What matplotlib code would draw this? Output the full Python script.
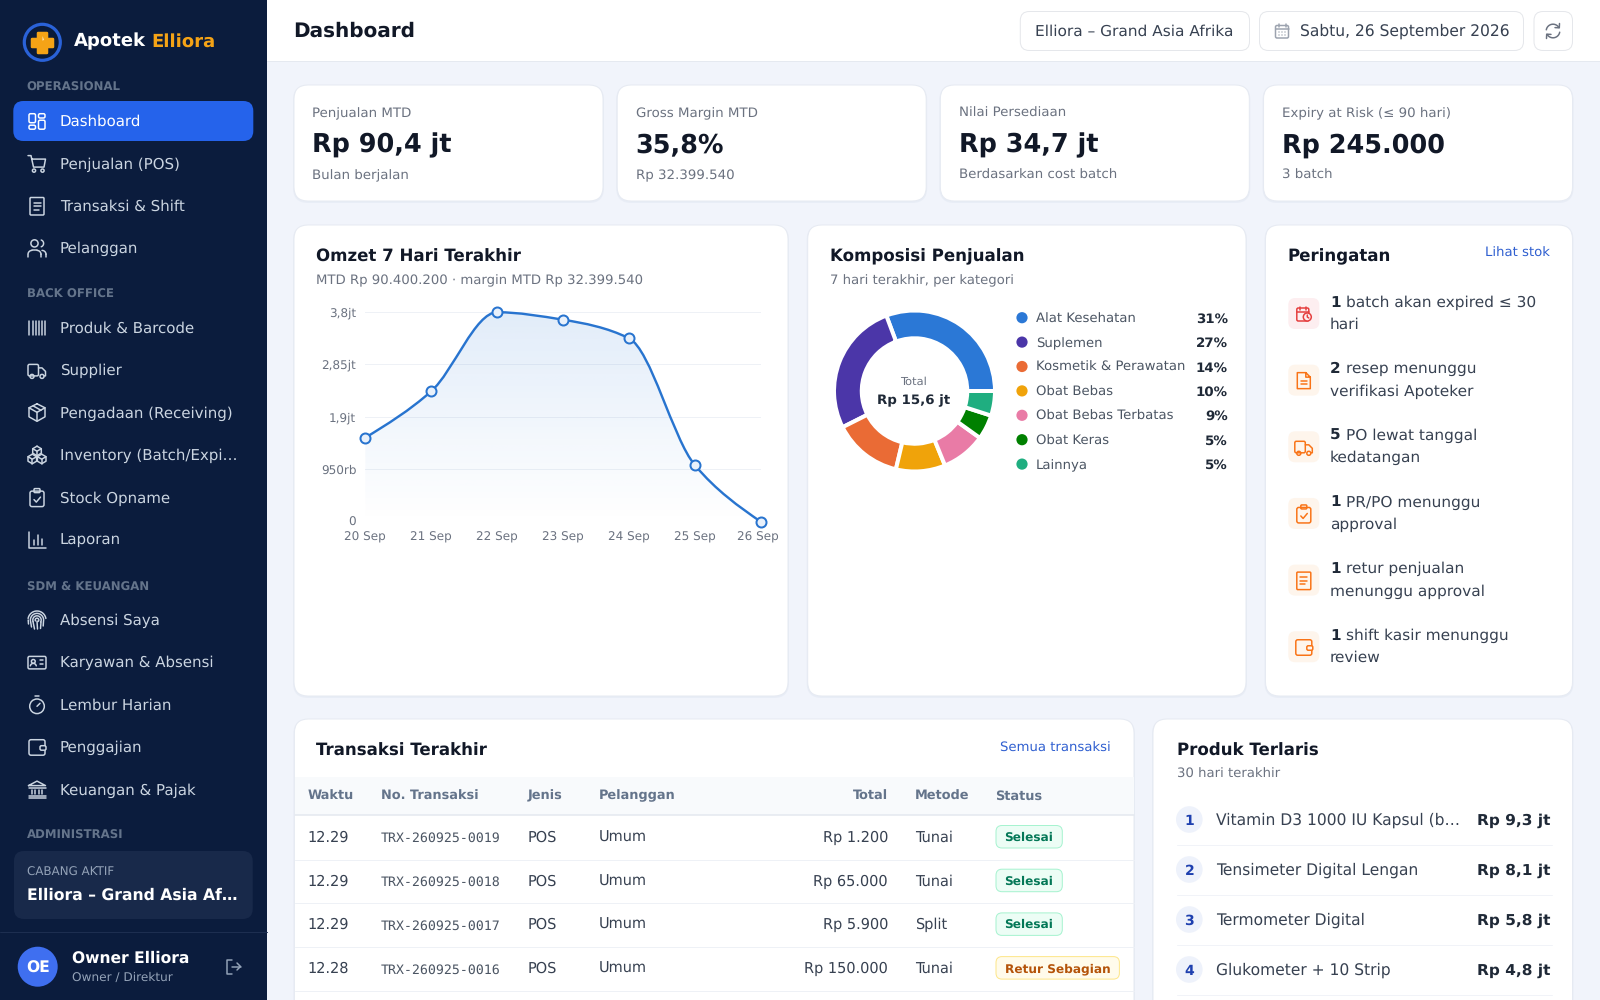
#!/usr/bin/env python
# coding=utf-8
"""Apotek Elliora dashboard, drawn on a pixel canvas with two real chart axes."""
import numpy as np
import matplotlib
matplotlib.use("Agg")
import matplotlib.pyplot as plt
from matplotlib.patches import FancyBboxPatch, Circle, PathPatch, Polygon
from matplotlib.path import Path
from matplotlib.transforms import ScaledTranslation

plt.rcParams["text.hinting"] = "no_hinting"

W, H = 1600, 1000

# chart data
days = ["20 Sep", "21 Sep", "22 Sep", "23 Sep", "24 Sep", "25 Sep", "26 Sep"]
omzet = [1.52, 2.36, 3.79, 3.655, 3.32, 1.025, 0.0]
y_ticks = [0, 0.95, 1.9, 2.85, 3.8]
y_tick_labels = ["0", "950rb", "1,9jt", "2,85jt", "3,8jt"]

categories = ["Alat Kesehatan", "Suplemen", "Kosmetik & Perawatan", "Obat Bebas",
              "Obat Bebas Terbatas", "Obat Keras", "Lainnya"]
shares = [31, 27, 14, 10, 9, 5, 5]
cat_colors = ["#2b78d6", "#4b36a8", "#ea6b35", "#f0a30a", "#e97ba6", "#008000", "#1fae80"]

# kpi cards
kpi_labels = ["Penjualan MTD", "Gross Margin MTD", "Nilai Persediaan", "Expiry at Risk (≤ 90 hari)"]
kpi_values = ["Rp 90,4 jt", "35,8%", "Rp 34,7 jt", "Rp 245.000"]
kpi_subs = ["Bulan berjalan", "Rp 32.399.540", "Berdasarkan cost batch", "3 batch"]

# sidebar
menu_ops = ["Dashboard", "Penjualan (POS)", "Transaksi & Shift", "Pelanggan"]
menu_back = ["Produk & Barcode", "Supplier", "Pengadaan (Receiving)",
             "Inventory (Batch/Expi…", "Stock Opname", "Laporan"]
menu_sdm = ["Absensi Saya", "Karyawan & Absensi", "Lembur Harian", "Penggajian", "Keuangan & Pajak"]

# alerts
alert_nums = ["1", "2", "5", "1", "1", "1"]
alert_line1 = ["batch akan expired ≤ 30", "resep menunggu", "PO lewat tanggal",
               "PR/PO menunggu", "retur penjualan", "shift kasir menunggu"]
alert_line2 = ["hari", "verifikasi Apoteker", "kedatangan", "approval",
               "menunggu approval", "review"]

# table
tbl_head = ["Waktu", "No. Transaksi", "Jenis", "Pelanggan", "Total", "Metode", "Status"]
tbl_time = ["12.29", "12.29", "12.29", "12.28"]
tbl_no = ["TRX-260925-0019", "TRX-260925-0018", "TRX-260925-0017", "TRX-260925-0016"]
tbl_kind = ["POS", "POS", "POS", "POS"]
tbl_cust = ["Umum", "Umum", "Umum", "Umum"]
tbl_total = ["Rp 1.200", "Rp 65.000", "Rp 5.900", "Rp 150.000"]
tbl_method = ["Tunai", "Tunai", "Split", "Tunai"]
tbl_status = ["Selesai", "Selesai", "Selesai", "Retur Sebagian"]

# top products
top_names = ["Vitamin D3 1000 IU Kapsul (b…", "Tensimeter Digital Lengan",
             "Termometer Digital", "Glukometer + 10 Strip"]
top_values = ["Rp 9,3 jt", "Rp 8,1 jt", "Rp 5,8 jt", "Rp 4,8 jt"]

NAVY = "#0b1c3d"
BG = "#f1f4fb"
INK = "#111827"
GREY = "#6b7280"
BODY = "#374151"
LINK = "#2f5fd0"
MENU = "#cbd5e1"

fig = plt.figure(figsize=(W / 100, H / 100), dpi=100, facecolor=BG)
ax = fig.add_axes([0, 0, 1, 1], zorder=0)
ax.set_xlim(0, W)
ax.set_ylim(H, 0)
ax.axis("off")


def pt(px):
    return px * 0.72


def text(x, y, s, size=13, color=INK, bold=False, ha="left", family=None):
    # y is the middle of the capitals, baseline placed from it so descenders do not shift rows
    kw = {"family": family} if family else {}
    return ax.text(x, y + size * 0.36, s, fontsize=pt(size), color=color, ha=ha, va="baseline",
                   fontweight="bold" if bold else "normal", **kw)


def box(x0, y0, x1, y1, r=8, fc="white", ec="none", lw=1, z=1):
    p = FancyBboxPatch((x0 + r, y0 + r), x1 - x0 - 2 * r, y1 - y0 - 2 * r,
                       boxstyle="round,pad=%g,rounding_size=%g" % (r, r),
                       fc=fc, ec=ec, lw=pt(lw), zorder=z)
    ax.add_patch(p)
    return p


def card(x0, y0, x1, y1):
    box(x0 - 1, y0, x1 + 1, y1 + 2, r=15, fc="#dfe5f0", z=0.8).set_alpha(0.45)
    box(x0, y0, x1, y1, r=14, fc="white", ec="#e6eaf2")


def line(xs, ys, color, lw=1.5, z=3):
    ax.plot(xs, ys, color=color, lw=pt(lw), solid_capstyle="round",
            solid_joinstyle="round", zorder=z)


def arc(cx, cy, r, a0, a1, color, lw=1.5):
    t = np.radians(np.linspace(a0, a1, 30))
    line(cx + r * np.cos(t), cy - r * np.sin(t), color, lw)


def ring(cx, cy, r, color, lw=1.5, fc="none"):
    ax.add_patch(Circle((cx, cy), r, fc=fc, ec=color, lw=pt(lw), zorder=3))


def rr(x0, y0, x1, y1, color, r=1.5, lw=1.5):
    box(x0, y0, x1, y1, r=r, fc="none", ec=color, lw=lw, z=3)


def icon(name, cx, cy, c):
    """Stroke icons, offsets in px around the icon centre."""
    def L(*pts):
        a = np.array(pts, dtype=float)
        line(cx + a[:, 0], cy + a[:, 1], c)

    def R(x0, y0, x1, y1, r=1.5):
        rr(cx + x0, cy + y0, cx + x1, cy + y1, c, r)

    def O(x, y, r):
        ring(cx + x, cy + y, r, c)

    if name == "dashboard":
        R(-8, -7.5, -1.5, 1.5)
        R(1.5, -7.5, 8, -3.2)
        R(-8, 4, -1.5, 8)
        R(1.5, -1, 8, 8)
    elif name == "cart":
        L((-9, -8), (-6, -8), (-3.5, 3.5), (7, 3.5), (8.5, -4.5), (-5, -4.5))
        O(-3, 7, 1.6)
        O(5.5, 7, 1.6)
    elif name == "receipt":
        R(-7, -8.5, 7, 9, 1)
        L((-3.5, -3.5), (3.5, -3.5))
        L((-3.5, 0), (3.5, 0))
        L((-3.5, 3.5), (1.5, 3.5))
    elif name == "users":
        O(-2.5, -5, 3.6)
        arc(cx + 3, cy - 5, 3.6, -70, 70, c)
        L((-9, 8.5), (-9, 6.5))
        arc(cx - 5, cy + 6, 4, 90, 180, c)
        L((-5, 2), (0, 2))
        arc(cx, cy + 6, 4, 0, 90, c)
        L((4, 6), (4, 8.5))
        arc(cx + 5, cy + 6, 4, 0, 90, c)
        L((9, 6), (9, 8.5))
    elif name == "barcode":
        for dx in (-8, -4.5, -1.5, 1.5, 4.5, 8):
            L((dx, -7), (dx, 7))
    elif name == "truck":
        R(-9, -6, 1.5, 5.5)
        L((1.5, -2.5), (5, -2.5), (8.5, 1), (8.5, 5.5), (7, 5.5))
        O(-5, 6, 2)
        O(5, 6, 2)
    elif name == "package":
        hexa = [(0, -9), (8, -5), (8, 4), (0, 8.5), (-8, 4), (-8, -5), (0, -9)]
        L(*hexa)
        L((-8, -5), (0, -0.5), (8, -5))
        L((0, -0.5), (0, 8.5))
        L((-4, -7), (4, -2.5))
    elif name == "boxes":
        for ox, oy in ((0, -4.5), (-4.7, 3.5), (4.7, 3.5)):
            L((ox, oy - 4.5), (ox + 4.3, oy - 2), (ox + 4.3, oy + 2.5), (ox, oy + 5),
              (ox - 4.3, oy + 2.5), (ox - 4.3, oy - 2), (ox, oy - 4.5))
            L((ox - 4.3, oy - 2), (ox, oy + 0.5), (ox + 4.3, oy - 2))
            L((ox, oy + 0.5), (ox, oy + 5))
    elif name == "clipboard":
        R(-7, -6.5, 7, 9, 2)
        R(-3, -9, 3, -5, 1)
        L((-3, 2), (-0.7, 4.5), (3.5, -0.5))
    elif name == "chart":
        L((-8, -8.5), (-8, 8), (9, 8))
        L((-3.5, 4.5), (-3.5, 0))
        L((0.5, 4.5), (0.5, -5))
        L((4.5, 4.5), (4.5, -1.5))
    elif name == "finger":
        for r, a0, a1 in ((9, 10, 170), (6.6, -5, 185), (4.2, -30, 200), (1.8, -60, 210)):
            arc(cx, cy, r, a0, a1, c)
        L((-8.8, 0), (-8.5, 4))
        L((-6.5, 1), (-5.5, 7))
        L((-4, 1.5), (-2.5, 9))
        L((0, 1), (0.5, 9))
        L((4, 2), (3.5, 8.5))
        L((6.5, 1), (6.2, 6))
    elif name == "idcard":
        R(-9, -6, 9, 6.5, 1.5)
        O(-3.7, -1, 1.9)
        arc(cx - 3.7, cy + 4, 3, 10, 170, c)
        L((2.5, -2), (6, -2))
        L((2.5, 2), (6, 2))
    elif name == "timer":
        O(0, 1.5, 7.3)
        L((-2, -8.5), (2, -8.5))
        L((0, 1.5), (3, -1.5))
    elif name == "wallet":
        R(-8, -7.5, 8, 8, 2)
        box(cx + 3, cy - 1.5, cx + 9, cy + 3, r=1.5, fc=ax_bg[0], ec=c, lw=1.5, z=3)
    elif name == "bank":
        L((-8.5, -4), (0, -8.5), (8.5, -4), (-8.5, -4))
        L((-8.5, 8.5), (8.5, 8.5))
        L((-8.5, -1.5), (8.5, -1.5))
        L((-8.5, 6), (8.5, 6))
        for dx in (-5, -1.7, 1.7, 5):
            L((dx, 0), (dx, 4))
    elif name == "logout":
        L((-1, -7), (-6, -7), (-6, 7), (-1, 7))
        L((-1, 0), (7.5, 0))
        L((4, -3.5), (7.5, 0), (4, 3.5))
    elif name == "calendar":
        R(-6.5, -5.5, 6.5, 7, 1.5)
        L((-6.5, -2), (6.5, -2))
        L((-3.5, -7), (-3.5, -4))
        L((3.5, -7), (3.5, -4))
        for dy in (1, 4):
            for dx in (-3, 0, 3):
                ax.add_patch(Circle((cx + dx, cy + dy), 0.7, fc=c, ec="none", zorder=3))
    elif name == "refresh":
        arc(cx, cy, 6.8, 30, 170, c)
        arc(cx, cy, 6.8, 210, 350, c)
        L((6.5, -7.5), (6.3, -3.2), (2, -3.4))
        L((-6.5, 7.5), (-6.3, 3.2), (-2, 3.4))
    elif name == "calclock":
        R(-7, -6, 5, 7, 1.5)
        L((-7, -2.5), (5, -2.5))
        L((-3.5, -7.5), (-3.5, -4.5))
        L((2, -7.5), (2, -4.5))
        ring(cx + 3.5, cy + 3, 4, c, fc="#fdeef0")
        L((3.5, 1), (3.5, 3), (5, 4))
    elif name == "file":
        L((2, -8), (-6.5, -8), (-6.5, 8), (6.5, 8), (6.5, -3.5), (2, -8), (2, -3.5), (6.5, -3.5))
        L((-3, 0), (3, 0))
        L((-3, 3.5), (3, 3.5))


# sidebar
ax.add_patch(plt.Rectangle((0, 0), 267, H, fc=NAVY, ec="none", zorder=0.5))
ax_bg = [NAVY]

ring(42.3, 42.3, 18, "#2a62d8", lw=3.2, fc="#0a1a38")
ax.add_patch(Polygon([(37.5, 33), (47, 33), (47, 38.5), (52.5, 38.5), (52.5, 47), (47, 47),
                      (47, 52.5), (37.5, 52.5), (37.5, 47), (32, 47), (32, 38.5), (37.5, 38.5)],
                     fc="#f5a316", ec="#f5a316", lw=pt(2.5), joinstyle="round", zorder=4))
ax.add_patch(Polygon([(42.6, 36), (44, 40), (42.4, 40.6)], fc="#fde9c0", ec="none", zorder=5))
t = text(73.5, 40, "Apotek", 18, "white", True)
fig.canvas.draw()
rend = fig.canvas.get_renderer()
text(73.5 + t.get_window_extent(rend).width + 18 * 0.348, 40, "Elliora", 18, "#f5a316", True)

SECTION = "#64748b"
text(26.7, 87, "OPERASIONAL", 11.7, SECTION, True)
text(26.7, 293.7, "BACK OFFICE", 11.7, SECTION, True)
text(26.7, 586.7, "SDM & KEUANGAN", 11.7, SECTION, True)
text(26.7, 835, "ADMINISTRASI", 11.7, SECTION, True)

box(13.3, 101, 253.3, 141, r=10, fc="#2563eb", z=1)

ops_icons = ["dashboard", "cart", "receipt", "users"]
back_icons = ["barcode", "truck", "package", "boxes", "clipboard", "chart"]
sdm_icons = ["finger", "idcard", "timer", "wallet", "bank"]
for labels, icons, y0 in ((menu_ops, ops_icons, 120.7), (menu_back, back_icons, 327.5),
                          (menu_sdm, sdm_icons, 619.5)):
    for i, (lab, ic) in enumerate(zip(labels, icons)):
        y = y0 + i * 42.4
        col = "white" if lab == "Dashboard" else MENU
        text(60, y, lab, 15.05, col)
        icon(ic, 37, y + 0.5, col)

box(14, 851, 252.7, 919, r=10, fc="#18294a")
text(26.7, 871.7, "CABANG AKTIF", 11.9, "#94a3b8")
text(26.7, 894, "Elliora – Grand Asia Af…", 15.6, "white", True)
line([0, 267], [932, 932], "#1d2e50", 1)
ax.add_patch(Circle((37.7, 966.7), 20, fc="#3f6ff0", ec="none", zorder=2))
text(37.7, 966.7, "OE", 15.5, "white", True, ha="center")
text(71.5, 956.7, "Owner Elliora", 15.5, "white", True)
text(71.5, 977, "Owner / Direktur", 12.1, "#94a3b8")
icon("logout", 233, 966.5, "#94a3b8")

# top bar
ax.add_patch(plt.Rectangle((267, 0), W - 267, 61, fc="white", ec="none", zorder=0.5))
line([267, W], [61.3, 61.3], "#e5e9f0", 1, z=1)
text(293.5, 30, "Dashboard", 20, INK, True)
box(1020.3, 11.5, 1249.5, 50.5, r=9, fc="white", ec="#e5e7eb")
text(1034.8, 30.5, "Elliora – Grand Asia Afrika", 15.45, BODY)
box(1259.5, 11.5, 1523.5, 50.5, r=9, fc="white", ec="#e5e7eb")
icon("calendar", 1282, 31, "#9ca3af")
text(1299.8, 30.5, "Sabtu, 26 September 2026", 15.5, BODY)
box(1534, 11.5, 1572.5, 50.5, r=9, fc="white", ec="#e5e7eb")
icon("refresh", 1553, 31, GREY)

# kpi row
for i in range(4):
    x0 = 294 + i * 323.17
    card(x0, 85, x0 + 309, 201)
    text(x0 + 18.5, 112.5, kpi_labels[i], 13.35, GREY)
    text(x0 + 18.5, 143, kpi_values[i], 25.5, INK, True)
    text(x0 + 18.5, 174.5, kpi_subs[i], 13.35, GREY)

# omzet chart
card(294, 225, 788, 696)
text(316.5, 255.7, "Omzet 7 Hari Terakhir", 16.65, INK, True)
text(316.5, 279.7, "MTD Rp 90.400.200 · margin MTD Rp 32.399.540", 13.3, GREY)

CX0, CX1, CY0, CY1 = 365.3, 760.7, 311.7, 521.7
cax = fig.add_axes([CX0 / W, 1 - CY1 / H, (CX1 - CX0) / W, (CY1 - CY0) / H], zorder=2)
cax.patch.set_alpha(0)
for s in cax.spines.values():
    s.set_visible(False)
x = np.arange(len(days))
y = np.array(omzet)


def smooth_path(xv, yv):
    """Monotone cubic through the points, written as bezier segments."""
    s = np.diff(yv) / np.diff(xv)
    m = np.zeros(len(xv))
    for i in range(1, len(xv) - 1):
        if s[i - 1] * s[i] > 0:
            m[i] = 2 * s[i - 1] * s[i] / (s[i - 1] + s[i])
    m[0] = (3 * s[0] - m[1]) / 2
    m[-1] = (3 * s[-1] - m[-2]) / 2
    verts = [(xv[0], yv[0])]
    codes = [Path.MOVETO]
    for i in range(len(xv) - 1):
        h = (xv[i + 1] - xv[i]) / 3
        verts += [(xv[i] + h, yv[i] + m[i] * h), (xv[i + 1] - h, yv[i + 1] - m[i + 1] * h),
                  (xv[i + 1], yv[i + 1])]
        codes += [Path.CURVE4] * 3
    return verts, codes


verts, codes = smooth_path(x, y)
area = Path(verts + [(x[-1], 0), (x[0], 0), (x[0], y[0])],
            codes + [Path.LINETO, Path.LINETO, Path.LINETO])
grad = np.zeros((256, 1, 4))
grad[..., :3] = matplotlib.colors.to_rgb("#2b78d6")
grad[..., 3] = np.linspace(0.14, 0.0, 256)[:, None]
im = cax.imshow(grad, extent=[x[0], x[-1], 0, max(y_ticks)], aspect="auto", zorder=1)
patch = PathPatch(area, fc="none", ec="none", transform=cax.transData)
cax.add_patch(patch)
im.set_clip_path(patch)
cax.add_patch(PathPatch(Path(verts, codes), fc="none", ec="#2874cf", lw=pt(2.4), zorder=3, clip_on=False))
cax.plot(x, y, "o", ms=pt(10), mfc="#e9f1fb", mec="#2874cf", mew=pt(2), zorder=4, clip_on=False)
cax.set_xlim(x[0], x[-1])
cax.set_ylim(0, max(y_ticks))
cax.set_xticks(x, days)
cax.set_yticks(y_ticks, y_tick_labels)
cax.tick_params(length=0, labelsize=pt(12), labelcolor=GREY)
cax.tick_params(axis="x", pad=pt(10))
cax.tick_params(axis="y", pad=pt(9))
cax.grid(axis="y", color="#eef1f6", lw=pt(1))
cax.set_axisbelow(True)
for lbl in cax.get_yticklabels():
    # baseline anchored so the comma does not lift the label off its grid line
    lbl.set_verticalalignment("baseline")
    lbl.set_transform(lbl.get_transform() + ScaledTranslation(0, -4.4 / 100, fig.dpi_scale_trans))
last = cax.get_xticklabels()[-1]
last.set_transform(last.get_transform() + ScaledTranslation(-3 / 100, 0, fig.dpi_scale_trans))

# composition donut
card(807.7, 225, 1246, 696)
text(829.5, 255.7, "Komposisi Penjualan", 16.65, INK, True)
text(829.5, 279.7, "7 hari terakhir, per kategori", 13.3, GREY)
D = 161
pax = fig.add_axes([(914.5 - D / 2) / W, 1 - (391 + D / 2) / H, D / W, D / H], zorder=2)
pax.pie(shares, colors=cat_colors, radius=1, startangle=0, counterclock=True,
        wedgeprops=dict(width=0.345, edgecolor="white", linewidth=pt(4)))
pax.set_xlim(-1, 1)
pax.set_ylim(-1, 1)
text(913.7, 380.7, "Total", 11.5, GREY, ha="center")
text(913.7, 399, "Rp 15,6 jt", 13.4, "#1f2937", True, ha="center")
for i, (cat, val, col) in enumerate(zip(categories, shares, cat_colors)):
    yy = 317.7 + i * 24.4
    ax.add_patch(Circle((1022, yy), 5.6, fc=col, ec="none", zorder=3))
    text(1036, yy, cat, 13.25, "#4b5563")
    text(1227.7, yy, "%d%%" % val, 13.4, "#1f2937", True, ha="right")

# alerts
card(1265.5, 225, 1572.5, 696)
text(1287.5, 255.7, "Peringatan", 16.65, INK, True)
text(1550, 252, "Lihat stok", 13.2, LINK, ha="right")
alert_icons = ["calclock", "file", "truck", "clipboard", "receipt", "wallet"]
for i in range(6):
    yc = 313.5 + i * 66.65
    bg = "#fdeef0" if i == 0 else "#fef5ec"
    col = "#e53e3e" if i == 0 else "#f97316"
    ax_bg[0] = bg
    box(1288.3, yc - 15.5, 1319.3, yc + 15.5, r=7, fc=bg)
    icon(alert_icons[i], 1303.8, yc + 0.5, col)
    n = text(1330, yc - 12.5, alert_nums[i], 15.3, "#1f2937", True)
    dx = n.get_window_extent(rend).width + 15.3 * 0.318
    text(1330 + dx + 0.7, yc - 12.5, alert_line1[i], 15.35, BODY)
    text(1330, yc + 9.8, alert_line2[i], 15.35, BODY)

# transactions
card(294.4, 719, 1134, 1040)
text(316.3, 749.3, "Transaksi Terakhir", 16.65, INK, True)
text(1111, 746.7, "Semua transaksi", 13.2, LINK, ha="right")
ax.add_patch(plt.Rectangle((295, 776.7), 838.5, 38, fc="#f8fafc", ec="none", zorder=1.5))
line([295, 1133.5], [815, 815], "#e5e9f0", 1.6, z=2)
col_x = [307.6, 381, 527.5, 599, 888, 914.8, 995.4]
for j, h in enumerate(tbl_head):
    text(col_x[j], 795, h, 12.85, "#64748b", True, ha="right" if h == "Total" else "left")
for i in range(len(tbl_no)):
    yy = 836.5 + i * 43.7
    text(col_x[0], yy, tbl_time[i], 14.5, BODY)
    text(col_x[1], yy + 1, tbl_no[i], 13.2, "#4b5563", family="DejaVu Sans Mono")
    text(col_x[2], yy, tbl_kind[i], 14.5, BODY)
    text(col_x[3], yy, tbl_cust[i], 14.5, BODY)
    text(col_x[4], yy, tbl_total[i], 14.5, BODY, ha="right")
    text(col_x[5], yy, tbl_method[i], 14.5, BODY)
    if tbl_status[i] == "Selesai":
        box(996, yy - 11, 1062.3, yy + 11.5, r=6, fc="#ecfdf5", ec="#a7f3d0")
        text(1029, yy, tbl_status[i], 12.1, "#047857", True, ha="center")
    else:
        box(996, yy - 11, 1119.4, yy + 11.5, r=6, fc="#fffbeb", ec="#fde68a")
        text(1057.7, yy, tbl_status[i], 12.1, "#b45309", True, ha="center")
    line([295, 1133.5], [yy + 23, yy + 23], "#eef1f6", 1, z=2)

# top products
card(1153, 719, 1572.5, 1040)
text(1176.7, 749.3, "Produk Terlaris", 16.65, INK, True)
text(1176.7, 773.3, "30 hari terakhir", 13.3, GREY)
for i in range(4):
    yy = 819.5 + i * 50
    ax.add_patch(Circle((1189.3, yy), 13.3, fc="#eef2fb", ec="none", zorder=2))
    text(1189.3, yy, str(i + 1), 14, "#1e40af", True, ha="center")
    text(1216, yy, top_names[i], 15.5, BODY)
    text(1550.3, yy, top_values[i], 15.4, "#1f2937", True, ha="right")
    line([1176.7, 1552], [yy + 25, yy + 25], "#f1f3f8", 1, z=2)

fig.savefig("out.png", dpi=100)
